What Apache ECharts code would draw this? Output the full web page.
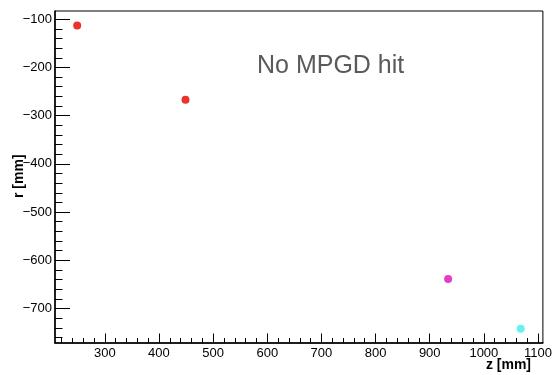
<!DOCTYPE html>
<html>
<head>
<meta charset="utf-8">
<script src="https://cdn.jsdelivr.net/npm/echarts@6/dist/echarts.min.js"></script>
<style>
html,body{margin:0;padding:0;background:#fff;}
#chart{width:555px;height:375px;}
</style>
</head>
<body>
<div id="chart"></div>
<script>
// ---- data ----
const zValues = [249, 449, 934, 1068];
const rValues = [-113, -267, -639, -742];
const xTickLabels = [300, 400, 500, 600, 700, 800, 900, 1000, 1100];
const yTickLabels = [-700, -600, -500, -400, -300, -200, -100];
const xRange = [208, 1109];
const yRange = [-771.5, -83];
const annotation = 'No MPGD hit';

// ---- style ----
const pointColors = ['#e8342b', '#e8342b', '#e03fc6', '#66f2f2'];
const FONT = '"Liberation Sans", Arial, Helvetica, sans-serif';

function minorTicks(range, step) {
  const out = [];
  let v = Math.ceil(range[0] / step) * step;
  for (; v <= range[1]; v += step) out.push(v);
  return out;
}
const xMinor = minorTicks(xRange, 20);
const yMinor = minorTicks(yRange, 20);
const minus = v => String(v).replace('-', '\u2212');

const chart = echarts.init(document.getElementById('chart'), null, {renderer: 'canvas'});
const baseLabel = {fontFamily: FONT, fontSize: 13, color: '#000'};

chart.setOption({
  animation: false,
  backgroundColor: '#fff',
  grid: {left: 55, top: 11, right: 11, bottom: 32, show: true, borderColor: '#000', borderWidth: 1, backgroundColor: 'transparent'},
  xAxis: [
    {
      type: 'value', min: xRange[0], max: xRange[1], position: 'bottom',
      axisLine: {show: true, lineStyle: {color: '#000', width: 1.5}},
      axisTick: {show: true, inside: true, length: 9.5, customValues: xTickLabels, lineStyle: {color: '#000', width: 1}},
      axisLabel: Object.assign({show: true, margin: 4, customValues: xTickLabels, formatter: minus}, baseLabel),
      splitLine: {show: false}
    },
    {
      type: 'value', min: xRange[0], max: xRange[1], position: 'bottom',
      axisLine: {show: false},
      axisTick: {show: true, inside: true, length: 5, customValues: xMinor, lineStyle: {color: '#000', width: 1}},
      axisLabel: {show: false},
      splitLine: {show: false}
    }
  ],
  yAxis: [
    {
      type: 'value', min: yRange[0], max: yRange[1], position: 'left',
      axisLine: {show: true, lineStyle: {color: '#000', width: 1.5}},
      axisTick: {show: true, inside: true, length: 15, customValues: yTickLabels, lineStyle: {color: '#000', width: 1}},
      axisLabel: Object.assign({show: true, margin: 3, customValues: yTickLabels, formatter: minus}, baseLabel),
      splitLine: {show: false}
    },
    {
      type: 'value', min: yRange[0], max: yRange[1], position: 'left',
      axisLine: {show: false},
      axisTick: {show: true, inside: true, length: 7.5, customValues: yMinor, lineStyle: {color: '#000', width: 1}},
      axisLabel: {show: false},
      splitLine: {show: false}
    }
  ],
  series: [{
    type: 'scatter',
    xAxisIndex: 0, yAxisIndex: 0,
    symbol: 'circle', symbolSize: 8,
    data: zValues.map((z, i) => [z, rValues[i]]),
    itemStyle: {color: p => pointColors[p.dataIndex], opacity: 1}
  }],
  graphic: [
    {type: 'text', left: 257, top: 54, style: {text: annotation, fontFamily: FONT, fontSize: 25, fill: '#5a5a5a'}},
    {type: 'text', right: 24, top: 358, style: {text: 'z [mm]', fontFamily: FONT, fontSize: 14, fontWeight: 'bold', fill: '#000'}},
    {type: 'text', x: 12, y: 198, rotation: Math.PI / 2, style: {text: 'r [mm]', fontFamily: FONT, fontSize: 14, fontWeight: 'bold', fill: '#000', textAlign: 'left', textVerticalAlign: 'top'}}
  ]
});
</script>
</body>
</html>
